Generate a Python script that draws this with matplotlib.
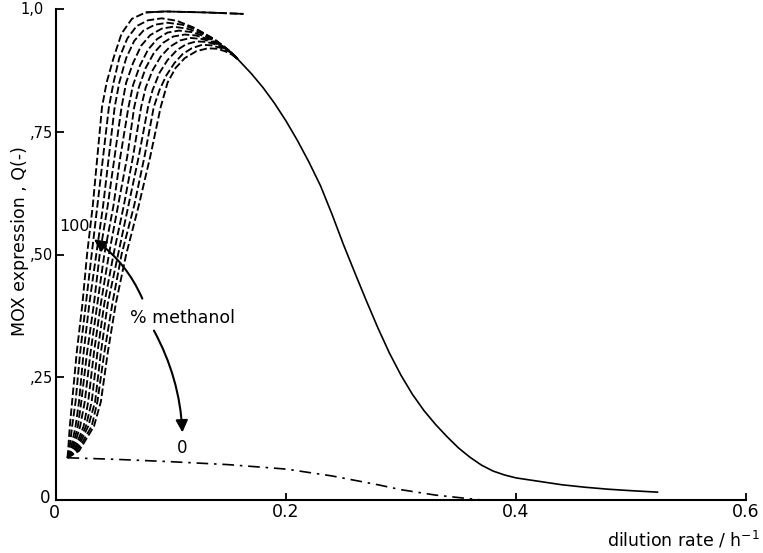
import matplotlib
matplotlib.use("Agg")
import matplotlib.pyplot as plt
from matplotlib.patches import FancyArrowPatch

# Methanol fraction of the feed (%) for each rising branch
methanol_pct = [100, 90, 80, 70, 60, 50, 40, 30, 20, 10]

# Q levels at which the lower (steep) part of each branch is sampled
rise_q = [0.086, 0.10, 0.15, 0.20, 0.30, 0.40, 0.50, 0.60, 0.70]

# dilution rate of each branch at those Q levels
rise_d = [
    [0.010, 0.0105, 0.012, 0.014, 0.018, 0.023, 0.027, 0.032, 0.036],
    [0.010, 0.0115, 0.014, 0.017, 0.021, 0.026, 0.031, 0.036, 0.041],
    [0.010, 0.0125, 0.017, 0.020, 0.024, 0.029, 0.035, 0.041, 0.046],
    [0.010, 0.0135, 0.019, 0.022, 0.027, 0.033, 0.038, 0.045, 0.051],
    [0.010, 0.0145, 0.021, 0.025, 0.030, 0.036, 0.042, 0.050, 0.056],
    [0.010, 0.0155, 0.024, 0.028, 0.033, 0.039, 0.046, 0.054, 0.062],
    [0.010, 0.0165, 0.026, 0.031, 0.036, 0.042, 0.050, 0.059, 0.067],
    [0.010, 0.0175, 0.028, 0.034, 0.039, 0.045, 0.054, 0.063, 0.072],
    [0.010, 0.0185, 0.031, 0.036, 0.042, 0.049, 0.057, 0.068, 0.077],
    [0.010, 0.0200, 0.033, 0.039, 0.045, 0.052, 0.061, 0.072, 0.082],
]

# upper part of each branch (over the maximum, down to the common curve)
top_d = [
    [0.040, 0.044, 0.050, 0.057, 0.066, 0.078, 0.095, 0.130, 0.163],
    [0.046, 0.050, 0.055, 0.062, 0.070, 0.080, 0.092, 0.105, 0.120, 0.135, 0.148, 0.158],
    [0.051, 0.055, 0.061, 0.068, 0.076, 0.086, 0.097, 0.110, 0.124, 0.138, 0.149, 0.158],
    [0.057, 0.061, 0.067, 0.074, 0.082, 0.092, 0.102, 0.114, 0.127, 0.140, 0.150, 0.158],
    [0.063, 0.067, 0.073, 0.080, 0.088, 0.097, 0.107, 0.118, 0.130, 0.142, 0.151, 0.158],
    [0.068, 0.072, 0.078, 0.085, 0.093, 0.102, 0.112, 0.122, 0.133, 0.144, 0.152, 0.158],
    [0.074, 0.078, 0.084, 0.091, 0.099, 0.108, 0.117, 0.127, 0.137, 0.146, 0.153, 0.158],
    [0.080, 0.084, 0.090, 0.097, 0.105, 0.113, 0.122, 0.131, 0.140, 0.148, 0.154, 0.158],
    [0.085, 0.090, 0.096, 0.103, 0.110, 0.118, 0.127, 0.135, 0.143, 0.150, 0.155, 0.158],
    [0.091, 0.097, 0.104, 0.112, 0.122, 0.132, 0.140, 0.147, 0.153, 0.158],
]
top_q = [
    [0.80, 0.85, 0.90, 0.95, 0.98, 0.993, 0.995, 0.993, 0.990],
    [0.80, 0.85, 0.90, 0.94, 0.965, 0.977, 0.981, 0.976, 0.962, 0.942, 0.920, 0.898],
    [0.80, 0.85, 0.90, 0.935, 0.956, 0.968, 0.972, 0.968, 0.956, 0.938, 0.918, 0.898],
    [0.80, 0.85, 0.89, 0.925, 0.947, 0.960, 0.964, 0.960, 0.950, 0.934, 0.916, 0.898],
    [0.80, 0.845, 0.885, 0.917, 0.939, 0.952, 0.956, 0.953, 0.944, 0.930, 0.914, 0.898],
    [0.80, 0.84, 0.88, 0.91, 0.931, 0.944, 0.948, 0.946, 0.938, 0.926, 0.912, 0.898],
    [0.80, 0.84, 0.875, 0.903, 0.923, 0.936, 0.941, 0.939, 0.932, 0.922, 0.910, 0.898],
    [0.80, 0.835, 0.87, 0.896, 0.916, 0.928, 0.934, 0.933, 0.927, 0.918, 0.908, 0.898],
    [0.80, 0.835, 0.865, 0.89, 0.908, 0.920, 0.927, 0.926, 0.921, 0.914, 0.906, 0.898],
    [0.80, 0.85, 0.88, 0.90, 0.914, 0.920, 0.919, 0.914, 0.907, 0.898],
]

# common descending curve (washout side)
tail_d = [0.158, 0.170, 0.180, 0.190, 0.200, 0.210, 0.220, 0.230, 0.240, 0.250,
          0.260, 0.270, 0.280, 0.290, 0.300, 0.310, 0.320, 0.330, 0.340, 0.350,
          0.360, 0.370, 0.380, 0.390, 0.400, 0.420, 0.440, 0.460, 0.480, 0.500,
          0.523]
tail_q = [0.898, 0.868, 0.840, 0.808, 0.772, 0.732, 0.688, 0.640, 0.582, 0.520,
          0.462, 0.405, 0.350, 0.299, 0.254, 0.215, 0.182, 0.154, 0.129, 0.106,
          0.087, 0.071, 0.059, 0.051, 0.045, 0.038, 0.031, 0.026, 0.022, 0.019,
          0.016]

# 0 % methanol (glucose only)
zero_d = [0.010, 0.050, 0.100, 0.150, 0.200, 0.240, 0.280, 0.300, 0.330, 0.370]
zero_q = [0.086, 0.083, 0.078, 0.072, 0.063, 0.049, 0.031, 0.021, 0.010, 0.000]

x_ticks = [0.0, 0.2, 0.4, 0.6]
x_tick_labels = ["", "0.2", "0.4", "0.6"]
y_ticks = [0.0, 0.25, 0.50, 0.75, 1.0]
y_tick_labels = ["", ",25", ",50", ",75", ""]

fig = plt.figure(figsize=(7.63, 5.53), dpi=100)
ax = fig.add_axes([56 / 763, 53 / 553, 690 / 763, 491 / 553])

ink = "black"
dash = (0, (4.0, 1.6))
for k in range(len(methanol_pct)):
    d = rise_d[k] + top_d[k]
    q = rise_q + top_q[k]
    ax.plot(d, q, color=ink, lw=1.35, linestyle=dash,
            dash_capstyle="butt", clip_on=False)

# the 100 % branch levels off along the top: drawn with long strokes
flat_d = [d for d, q in zip(top_d[0], top_q[0]) if q >= 0.99]
flat_q = [q for q in top_q[0] if q >= 0.99]
ax.plot(flat_d, flat_q, color=ink, lw=1.3, linestyle=(0, (14, 1.5)),
        clip_on=False)

ax.plot(tail_d, tail_q, color=ink, lw=1.2, clip_on=False)
ax.plot(zero_d, zero_q, color=ink, lw=1.2,
        linestyle=(0, (7, 3.5, 1.5, 3.5)), clip_on=False)

ax.set_xlim(0, 0.6)
ax.set_ylim(0, 1.0)
for side in ("top", "right"):
    ax.spines[side].set_visible(False)
for side in ("left", "bottom"):
    ax.spines[side].set_linewidth(1.5)

ax.set_xticks(x_ticks)
ax.set_xticklabels(x_tick_labels, fontsize=12.5)
ax.set_yticks(y_ticks)
ax.set_yticklabels(y_tick_labels, fontsize=10.5)
ax.tick_params(axis="x", direction="in", length=5, width=1.3, pad=2)
ax.tick_params(axis="y", direction="in", length=6, width=1.3, pad=2)

# origin labels of both axes and the top value
ax.text(-0.0095, 0.004, "0", fontsize=12, ha="center", va="center")
ax.text(-0.001, -0.026, "0", fontsize=12.5, ha="center", va="center")
ax.text(-0.011, 1.0, "1,0", fontsize=10.5, ha="right", va="center")

# annotations
ax.text(0.0165, 0.558, "100", fontsize=11.5, ha="center", va="center")
ax.text(0.064, 0.371, "% methanol", fontsize=12.5, ha="left", va="center")
ax.text(0.110, 0.106, "0", fontsize=12, ha="center", va="center")

arrow_up = FancyArrowPatch((0.076, 0.405), (0.031, 0.534),
                           connectionstyle="arc3,rad=0.15",
                           arrowstyle="-|>", mutation_scale=18,
                           lw=1.5, color=ink)
ax.add_patch(arrow_up)
arrow_down = FancyArrowPatch((0.084, 0.350), (0.110, 0.132),
                             connectionstyle="arc3,rad=-0.12",
                             arrowstyle="-|>", mutation_scale=18,
                             lw=1.5, color=ink)
ax.add_patch(arrow_down)

fig.text(20 / 763, 1 - 241 / 553, "MOX expression , Q(-)", rotation=90,
         fontsize=12.5, ha="center", va="center")
fig.text(760 / 763, 1 - 540 / 553, "dilution rate / h$^{-1}$", fontsize=12.5,
         ha="right", va="center")

fig.savefig("out.png", dpi=100)
